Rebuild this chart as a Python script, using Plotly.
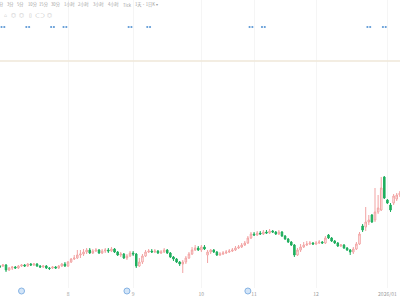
import pandas as pd
import plotly.graph_objects as go

# ---- data ----
holidays = ["2025-10-01", "2025-10-02", "2025-10-03", "2025-10-06", "2025-10-07",
            "2025-10-08", "2026-01-01", "2026-01-02"]
dates = [d for d in pd.bdate_range("2025-07-01", "2026-01-09").strftime("%Y-%m-%d")
         if d not in holidays]

opens = [13.2,13.4,13.4,13.5,13.0,13.2,13.3,13.2,13.4,13.5,
         13.4,13.6,13.5,13.6,13.4,13.3,13.4,13.2,13.2,13.3,
         13.2,13.4,13.6,13.4,13.8,14.1,14.2,14.5,14.6,14.8,
         15.0,14.7,14.9,15.0,14.7,14.9,15.0,14.9,15.1,14.8,
         14.5,14.6,14.2,14.4,14.7,14.6,13.4,13.8,14.4,14.8,
         14.9,14.8,14.9,14.7,14.8,15.0,14.7,14.3,14.1,13.8,
         13.6,13.8,14.2,14.6,15.0,15.2,15.0,15.3,14.5,14.8,
         15.0,14.8,14.5,14.6,14.7,14.8,14.9,15.0,15.2,15.3,
         15.5,15.7,16.2,16.6,16.5,16.7,16.6,16.8,16.7,16.9,
         16.8,16.6,16.8,16.4,16.1,15.8,15.5,14.5,15.0,15.3,
         15.5,15.6,15.7,15.6,15.7,15.8,15.7,16.5,16.2,15.9,
         15.7,15.4,15.5,15.2,15.0,14.8,15.1,15.6,17.4,17.3,
         17.8,18.5,18.0,18.8,19.0,22.3,20.0,19.5,19.7,20.1,
         20.5]
closes = [13.4,13.3,13.5,13.0,13.2,13.3,13.2,13.4,13.5,13.4,
          13.6,13.5,13.6,13.4,13.3,13.4,13.2,13.15,13.3,13.2,
          13.4,13.6,13.4,13.8,14.1,14.2,14.5,14.6,14.8,15.0,
          14.7,14.9,15.0,14.7,14.9,15.0,14.9,15.1,14.8,14.5,
          14.6,14.2,14.4,14.7,14.6,13.4,13.8,14.4,14.8,14.9,
          14.8,14.9,14.7,14.8,15.0,14.7,14.3,14.1,13.8,13.6,
          13.8,14.2,14.6,15.0,15.2,15.0,15.3,15.1,14.8,15.0,
          14.8,14.5,14.6,14.7,14.8,14.9,15.0,15.2,15.3,15.5,
          15.7,16.2,16.6,16.5,16.7,16.6,16.8,16.7,16.9,16.8,
          16.6,16.8,16.4,16.1,15.8,15.5,14.5,15.0,15.3,15.5,
          15.6,15.7,15.6,15.7,15.8,15.7,16.2,16.2,15.9,15.7,
          15.4,15.5,15.2,15.0,14.8,15.1,15.6,16.6,17.0,17.8,
          18.0,17.8,18.8,19.2,21.2,20.2,19.7,19.0,20.4,20.5,
          20.7]
highs = [13.5,13.5,13.6,13.6,13.3,13.4,13.4,13.5,13.6,13.6,
         13.7,13.7,13.7,13.7,13.5,13.5,13.5,13.3,13.4,13.4,
         13.5,13.7,13.8,13.9,14.2,14.5,15.0,15.0,15.1,15.2,
         15.2,15.1,15.2,15.1,15.1,15.2,15.2,15.3,15.2,14.9,
         14.8,14.7,14.6,14.9,14.9,14.7,14.2,14.6,15.0,15.1,
         15.1,15.1,15.0,15.0,15.2,15.1,14.8,14.4,14.2,13.9,
         14.0,14.4,14.8,15.3,15.5,15.4,15.5,15.5,15.0,15.1,
         15.1,14.9,14.8,14.9,15.0,15.1,15.2,15.4,15.5,15.7,
         15.9,16.4,16.8,16.8,16.9,16.9,17.0,17.0,17.1,17.0,
         16.9,17.0,16.9,16.5,16.2,15.9,15.6,15.2,15.6,15.8,
         15.9,15.9,15.8,15.9,16.0,15.9,16.4,16.6,16.3,16.0,
         15.8,15.6,15.6,15.3,15.1,15.3,15.8,16.8,17.6,19.3,
         18.5,18.6,21.2,20.5,22.3,22.4,20.1,19.7,20.6,20.7,
         20.9]
lows = [13.1,13.2,13.3,12.8,12.9,13.0,13.1,13.1,13.3,13.3,
        13.3,13.4,13.4,13.3,13.2,13.2,13.1,13.0,13.1,13.1,
        13.1,13.3,13.3,13.3,13.7,14.0,14.1,14.2,14.4,14.6,
        14.6,14.6,14.8,14.6,14.6,14.7,14.7,14.8,14.7,14.4,
        14.3,14.1,14.0,14.3,14.4,13.2,13.3,13.6,14.3,14.7,
        14.7,14.7,14.6,14.6,14.7,14.6,14.2,13.9,13.7,13.4,
        12.7,13.6,14.1,14.5,14.9,14.9,14.8,15.0,13.7,14.6,
        14.7,14.4,14.4,14.5,14.6,14.7,14.8,14.9,15.1,15.2,
        15.4,15.6,16.1,16.4,16.4,16.5,16.5,16.6,16.6,16.7,
        16.5,16.5,16.3,16.0,15.7,15.4,14.3,14.4,14.8,15.2,
        15.4,15.5,15.5,15.5,15.6,15.6,15.6,16.1,15.8,15.6,
        15.3,15.3,15.1,14.9,14.5,14.6,15.0,15.5,16.8,16.9,
        17.5,17.7,17.8,18.6,18.9,20.1,19.6,18.8,19.5,19.9,
        20.3]

month_ticks = ["2025-08-01", "2025-09-01", "2025-10-09", "2025-11-03", "2025-12-01", "2026-01-05"]
month_labels = ["8", "9", "10", "11", "12", "2026/01"]

event_dates = ["2025-07-03", "2025-07-15", "2025-07-25", "2025-07-31", "2025-08-29",
               "2025-09-08", "2025-10-31", "2025-11-06", "2025-12-24", "2025-12-31"]
corp_action_dates = ["2025-07-11", "2025-08-28", "2025-10-30"]
alert_price = 33.9
event_price = 37.3

toolbar_labels = ["分", "3分", "5分", "10分", "15分", "30分", "1小时", "2小时", "3小时",
                  "4小时", "Tick", "1天·1日K ▾"]
toolbar_x = [1.5, 10.5, 20.5, 32.5, 44, 56.5, 70, 84, 98.5, 114, 127, 146]
icon_labels = ["⌂", "◎", "◎", "▯", "⊂⊃", "◎"]
icon_x = [5, 13, 21, 30, 40, 49]

# ---- figure ----
PLOT_H = 288
idx = list(range(len(dates)))
pos = {d: i for i, d in enumerate(dates)}

fig = go.Figure()
fig.add_trace(go.Candlestick(
    x=idx, open=opens, high=highs, low=lows, close=closes,
    increasing=dict(line=dict(color="#f2a3a3", width=1), fillcolor="#ffffff"),
    decreasing=dict(line=dict(color="#1fae5e", width=1), fillcolor="#1fae5e"),
    text=dates, hoverinfo="text+x", showlegend=False,
))

ex = []
for d in event_dates:
    ex += [pos[d] - 0.45, pos[d] + 0.45]
fig.add_trace(go.Scatter(
    x=ex, y=[event_price] * len(ex), mode="markers",
    marker=dict(size=2.2, color="#5f9ad6"), showlegend=False, hoverinfo="skip"))

for d in corp_action_dates:
    fig.add_shape(type="circle", xref="x", yref="paper",
                  xsizemode="pixel", ysizemode="pixel",
                  xanchor=pos[d], yanchor=-3 / PLOT_H,
                  x0=-3, x1=3, y0=-3, y1=3,
                  fillcolor="#d3e5f8", line=dict(color="#86b3e4", width=1))

fig.add_hline(y=alert_price, line=dict(color="#efe7d8", width=1.6))

for t, xp in zip(toolbar_labels, toolbar_x):
    fig.add_annotation(x=xp / 400, y=1 - 4.5 / PLOT_H, xref="paper", yref="paper",
                       text=t, showarrow=False, font=dict(size=4.2, color="#a0a0a0"),
                       xanchor="center", yanchor="middle")
for t, xp in zip(icon_labels, icon_x):
    fig.add_annotation(x=xp / 400, y=1 - 14 / PLOT_H, xref="paper", yref="paper",
                       text=t, showarrow=False, font=dict(size=5, color="#b4b4b4"),
                       xanchor="center", yanchor="middle")

fig.update_layout(
    width=400, height=300,
    margin=dict(l=0, r=0, t=0, b=300 - PLOT_H),
    paper_bgcolor="white", plot_bgcolor="white",
    font=dict(family="Noto Sans CJK SC, Noto Sans, sans-serif"),
    xaxis=dict(
        type="linear", range=[1.06, 130.06],
        tickvals=[pos[d] for d in month_ticks], ticktext=month_labels,
        showgrid=True, gridcolor="#f5f5f5", gridwidth=1,
        zeroline=False, showline=False, ticks="",
        tickfont=dict(size=5, color="#9a9a9a"), ticklabelstandoff=2,
        rangeslider=dict(visible=False), fixedrange=True,
    ),
    yaxis=dict(
        range=[11.2, 40], showticklabels=False, showgrid=False,
        zeroline=False, showline=False,
    ),
)

fig.write_html("out.html")
